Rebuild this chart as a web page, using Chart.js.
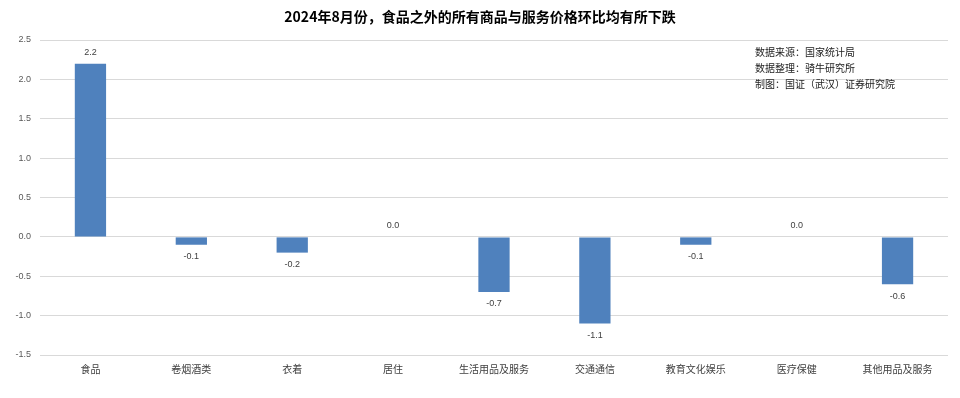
<!DOCTYPE html>
<html>
<head>
<meta charset="utf-8">
<script src="https://cdn.jsdelivr.net/npm/chart.js@4"></script>
<style>
  html, body { margin: 0; padding: 0; background: #fff; }
  #wrap { width: 960px; height: 398px; position: relative; }
</style>
</head>
<body>
<div id="wrap"><canvas id="cpiChart"></canvas></div>
<script>
// categories and month-on-month change (%)
const categories = ['食品', '卷烟酒类', '衣着', '居住', '生活用品及服务', '交通通信', '教育文化娱乐', '医疗保健', '其他用品及服务'];
const momChange = [2.2, -0.1, -0.2, 0.0, -0.7, -1.1, -0.1, 0.0, -0.6];
const yTicks = [-1.5, -1.0, -0.5, 0.0, 0.5, 1.0, 1.5, 2.0, 2.5];
const chartTitle = '2024年8月份，食品之外的所有商品与服务价格环比均有所下跌';
const sourceNotes = ['数据来源：国家统计局', '数据整理：骑牛研究所', '制图：国证（武汉）证券研究院'];

const CJK = '"Noto Sans CJK SC", "Noto Sans", sans-serif';

// title, notes and value labels
const decorPlugin = {
    id: 'decor',
    afterDatasetsDraw(chart) {
        const ctx = chart.ctx;
        ctx.save();
        ctx.fillStyle = '#000';
        ctx.font = 'bold 14px ' + CJK;
        ctx.textAlign = 'center';
        ctx.textBaseline = 'middle';
        ctx.fillText(chartTitle, 480, 17);

        ctx.font = '10px ' + CJK;
        ctx.textAlign = 'left';
        ctx.fillStyle = '#222';
        sourceNotes.forEach((t, i) => ctx.fillText(t, 755, 52 + i * 16));

        ctx.font = '9px "Liberation Sans", Arial, sans-serif';
        ctx.fillStyle = '#404040';
        ctx.textAlign = 'center';
        const meta = chart.getDatasetMeta(0);
        meta.data.forEach((bar, i) => {
            const v = momChange[i];
            const y = v >= 0 ? bar.y - 11 : bar.y + 12;
            ctx.fillText(v.toFixed(1), bar.x, y);
        });
        ctx.restore();
    }
};

new Chart(document.getElementById('cpiChart'), {
    type: 'bar',
    data: {
        labels: categories,
        datasets: [{
            data: momChange,
            backgroundColor: '#4f81bd',
            barPercentage: 0.31,
            categoryPercentage: 1.0
        }]
    },
    options: {
        responsive: true,
        maintainAspectRatio: false,
        animation: false,
        layout: { padding: { top: 40, right: 12, bottom: 0, left: 0 } },
        plugins: {
            legend: { display: false },
            tooltip: { enabled: false }
        },
        scales: {
            x: {
                grid: { display: false },
                border: { display: false },
                ticks: {
                    color: '#404040',
                    font: { family: CJK, size: 10 },
                    padding: 0,
                    maxRotation: 0
                },
                afterFit(scale) { scale.height = 43; }
            },
            y: {
                min: -1.5,
                max: 2.5,
                afterBuildTicks(scale) { scale.ticks = yTicks.map(v => ({ value: v })); },
                grid: { color: '#d9d9d9', drawTicks: false },
                border: { display: false },
                ticks: {
                    color: '#595959',
                    font: { family: '"Liberation Sans", Arial, sans-serif', size: 9 },
                    padding: 9,
                    callback: v => Number(v).toFixed(1)
                },
                afterFit(scale) { scale.width = 40; }
            }
        }
    },
    plugins: [decorPlugin]
});
</script>
</body>
</html>
